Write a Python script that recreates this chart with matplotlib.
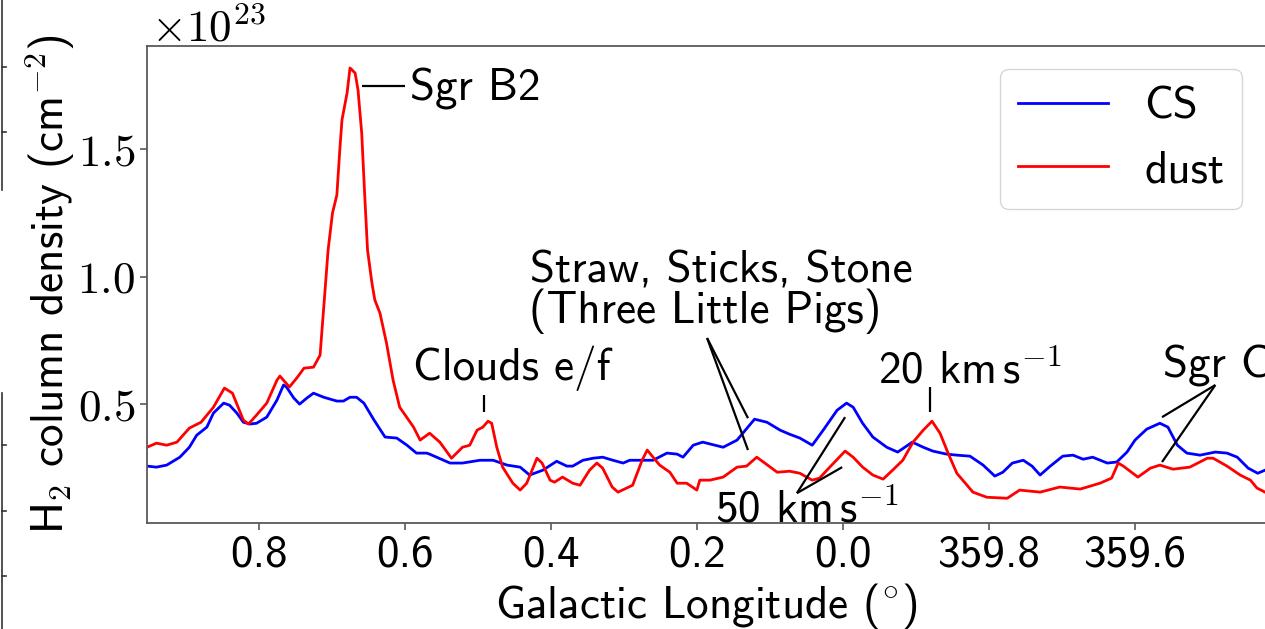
import matplotlib
matplotlib.use("Agg")
import matplotlib.pyplot as plt
from matplotlib.lines import Line2D
from matplotlib.ticker import FixedLocator, FuncFormatter

plt.rcParams["font.family"] = ["cmss10", "DejaVu Sans"]
plt.rcParams["mathtext.fontset"] = "cm"
plt.rcParams["axes.unicode_minus"] = False

FS = 32.5
SCALE = 1e23

# Galactic longitude in degrees (negative values are 360 - |l|), column density in 1e23 cm^-2
cs_lon = [0.953, 0.940, 0.926, 0.908, 0.895, 0.885, 0.871, 0.862, 0.848, 0.840, 0.830, 0.821,
          0.812, 0.803, 0.789, 0.775, 0.766, 0.762, 0.752, 0.744, 0.734, 0.725, 0.711, 0.693,
          0.684, 0.675, 0.666, 0.656, 0.642, 0.627, 0.611, 0.597, 0.584, 0.570, 0.566, 0.538,
          0.521, 0.497, 0.479, 0.460, 0.442, 0.429, 0.411, 0.392, 0.378, 0.370, 0.356, 0.342,
          0.329, 0.315, 0.301, 0.292, 0.278, 0.260, 0.241, 0.227, 0.219, 0.205, 0.192, 0.164,
          0.145, 0.121, 0.104, 0.086, 0.073, 0.059, 0.042, 0.027, 0.008, -0.005, -0.014, -0.027,
          -0.041, -0.060, -0.075, -0.095, -0.110, -0.123, -0.142, -0.156, -0.174, -0.192, -0.208,
          -0.219, -0.232, -0.247, -0.259, -0.270, -0.284, -0.301, -0.315, -0.329, -0.342, -0.362,
          -0.375, -0.389, -0.400, -0.416, -0.434, -0.445, -0.458, -0.471, -0.489, -0.510, -0.526,
          -0.540, -0.555, -0.568, -0.578]
cs_col = [0.257, 0.253, 0.261, 0.292, 0.331, 0.378, 0.410, 0.465, 0.504, 0.496, 0.465, 0.429,
          0.422, 0.425, 0.449, 0.516, 0.575, 0.567, 0.524, 0.500, 0.524, 0.543, 0.527, 0.512,
          0.512, 0.527, 0.527, 0.504, 0.437, 0.371, 0.367, 0.339, 0.308, 0.308, 0.304, 0.269,
          0.269, 0.280, 0.280, 0.261, 0.253, 0.222, 0.241, 0.276, 0.257, 0.257, 0.280, 0.288,
          0.292, 0.280, 0.269, 0.280, 0.280, 0.280, 0.308, 0.304, 0.292, 0.339, 0.351, 0.331,
          0.359, 0.441, 0.429, 0.398, 0.382, 0.367, 0.339, 0.398, 0.476, 0.504, 0.488, 0.425,
          0.371, 0.331, 0.312, 0.351, 0.331, 0.316, 0.304, 0.300, 0.296, 0.261, 0.218,
          0.233, 0.269, 0.280, 0.257, 0.222, 0.257, 0.296, 0.300, 0.284, 0.292, 0.269,
          0.273, 0.312, 0.359, 0.402, 0.425, 0.410, 0.339, 0.308, 0.300, 0.312, 0.308,
          0.292, 0.249, 0.229, 0.241]

dust_lon = [0.953, 0.940, 0.926, 0.912, 0.895, 0.879, 0.862, 0.847, 0.836, 0.821, 0.814, 0.803,
            0.789, 0.775, 0.771, 0.758, 0.748, 0.738, 0.725, 0.716, 0.712, 0.705, 0.699, 0.693,
            0.689, 0.686, 0.679, 0.675, 0.668, 0.664, 0.659, 0.655, 0.651, 0.645, 0.641, 0.634,
            0.625, 0.616, 0.607, 0.588, 0.579, 0.566, 0.552, 0.536, 0.521, 0.511, 0.501, 0.493,
            0.486, 0.481, 0.474, 0.466, 0.452, 0.442, 0.433, 0.419, 0.412, 0.401, 0.395, 0.384,
            0.370, 0.360, 0.347, 0.337, 0.329, 0.316, 0.308, 0.288, 0.275, 0.268, 0.260, 0.251,
            0.237, 0.227, 0.214, 0.200, 0.196, 0.182, 0.164, 0.145, 0.132, 0.118, 0.107, 0.090,
            0.073, 0.059, 0.042, 0.032, 0.018, -0.003, -0.014, -0.027, -0.041, -0.055, -0.068,
            -0.082, -0.096, -0.110, -0.122, -0.133, -0.144, -0.156, -0.170, -0.178, -0.197, -0.225,
            -0.242, -0.270, -0.297, -0.325, -0.352, -0.368, -0.377, -0.384, -0.404, -0.421, -0.434,
            -0.452, -0.475, -0.499, -0.507, -0.526, -0.544, -0.558, -0.567, -0.578]
dust_col = [0.331, 0.347, 0.339, 0.351, 0.406, 0.429, 0.488, 0.563, 0.543, 0.437, 0.422, 0.457,
            0.504, 0.594, 0.610, 0.567, 0.602, 0.641, 0.645, 0.692, 0.841, 1.104, 1.249, 1.320,
            1.496, 1.614, 1.720, 1.818, 1.798, 1.731, 1.563, 1.327, 1.104, 0.975, 0.908, 0.857,
            0.739, 0.594, 0.488, 0.410, 0.359, 0.386, 0.351, 0.288, 0.331, 0.339, 0.398, 0.410,
            0.433, 0.425, 0.331, 0.253, 0.190, 0.163, 0.190, 0.288, 0.269, 0.202, 0.194, 0.214,
            0.190, 0.182, 0.241, 0.269, 0.249, 0.175, 0.155, 0.182, 0.280, 0.320, 0.292, 0.261,
            0.233, 0.190, 0.190, 0.163, 0.202, 0.202, 0.214, 0.253, 0.257, 0.292, 0.269, 0.233,
            0.237, 0.229, 0.202, 0.210, 0.253, 0.316, 0.292, 0.253, 0.222, 0.206, 0.241,
            0.280, 0.351, 0.398, 0.433, 0.386, 0.308, 0.229, 0.182, 0.155, 0.135, 0.131,
            0.163, 0.155, 0.175, 0.167, 0.190, 0.210, 0.269, 0.257, 0.214, 0.249, 0.261,
            0.245, 0.253, 0.288, 0.288, 0.257, 0.222, 0.202, 0.171, 0.155]

x_ticks = [0.8, 0.6, 0.4, 0.2, 0.0, -0.2, -0.4]
y_ticks = [0.5, 1.0, 1.5]

# (label, text x, text y) and pointer segments (x0, y0, x1, y1), data units
labels = [
    ("Sgr B2", 0.593, 1.692),
    ("Clouds e/f", 0.589, 0.594),
    ("Straw, Sticks, Stone", 0.429, 0.978),
    ("(Three Little Pigs)", 0.430, 0.820),
    (r"20 km$\,$s$^{-1}$", -0.048, 0.582),
    (r"50 km$\,$s$^{-1}$", 0.175, 0.037),
    ("Sgr C", -0.438, 0.606),
]
pointers = [
    (0.600, 1.747, 0.659, 1.747),
    (0.492, 0.535, 0.492, 0.468),
    (0.186, 0.759, 0.130, 0.445),
    (0.186, 0.759, 0.130, 0.320),
    (-0.119, 0.567, -0.119, 0.469),
    (0.063, 0.151, -0.003, 0.449),
    (0.063, 0.151, 0.001, 0.253),
    (-0.510, 0.575, -0.437, 0.449),
    (-0.510, 0.575, -0.437, 0.273),
]


def lon_label(v, _pos=None):
    return f"{v % 360:.1f}"


fig = plt.figure(figsize=(12.65, 6.29), dpi=100)
ax = fig.add_axes([147 / 1265, 1 - 523 / 629, 1 - 147 / 1265, (523 - 46) / 629])

ax.plot(cs_lon, [v * SCALE for v in cs_col], color="blue", lw=2.0, label="CS")
ax.plot(dust_lon, [v * SCALE for v in dust_col], color="red", lw=2.0, label="dust")

ax.set_xlim(0.953, -0.578)
ax.set_ylim(0.034 * SCALE, 1.904 * SCALE)
ax.xaxis.set_major_locator(FixedLocator(x_ticks))
ax.xaxis.set_major_formatter(FuncFormatter(lon_label))
ax.yaxis.set_major_locator(FixedLocator([v * SCALE for v in y_ticks]))
ax.yaxis.set_major_formatter(FuncFormatter(lambda v, p: f"${v / SCALE:.1f}$"))
ax.tick_params(labelsize=FS, color="0.35", length=5, width=1.2)
for side in ("left", "bottom", "top"):
    ax.spines[side].set_color("0.35")
    ax.spines[side].set_linewidth(1.3)
ax.spines["right"].set_visible(False)

ax.text(0.004, 0.99, r"$\times10^{23}$", transform=ax.transAxes, fontsize=FS, va="bottom", ha="left")
ax.set_xlabel(r"Galactic Longitude (${}^{\circ}$)", fontsize=FS, labelpad=4)
ax.set_ylabel(r"H$_2$ column density (cm$^{-2}$)", fontsize=FS, labelpad=0)

for text, tx, ty in labels:
    ax.text(tx, ty * SCALE, text, fontsize=FS, ha="left", va="baseline")
for x0, y0, x1, y1 in pointers:
    ax.plot([x0, x1], [y0 * SCALE, y1 * SCALE], color="black", lw=1.6, solid_capstyle="butt")

ax.legend(loc="upper right", fontsize=FS, handlelength=2.0)

# fragments of a neighbouring panel at the left edge
for y0, y1 in [(0, 190), (393, 629)]:
    fig.add_artist(Line2D([1.5 / 1265, 1.5 / 1265], [1 - y0 / 629, 1 - y1 / 629], color="0.2", lw=1.2))
for yt in [67, 132, 445, 511, 576]:
    fig.add_artist(Line2D([1.5 / 1265, 6 / 1265], [1 - yt / 629, 1 - yt / 629], color="0.2", lw=1.2))

fig.savefig("out.png", dpi=100)
